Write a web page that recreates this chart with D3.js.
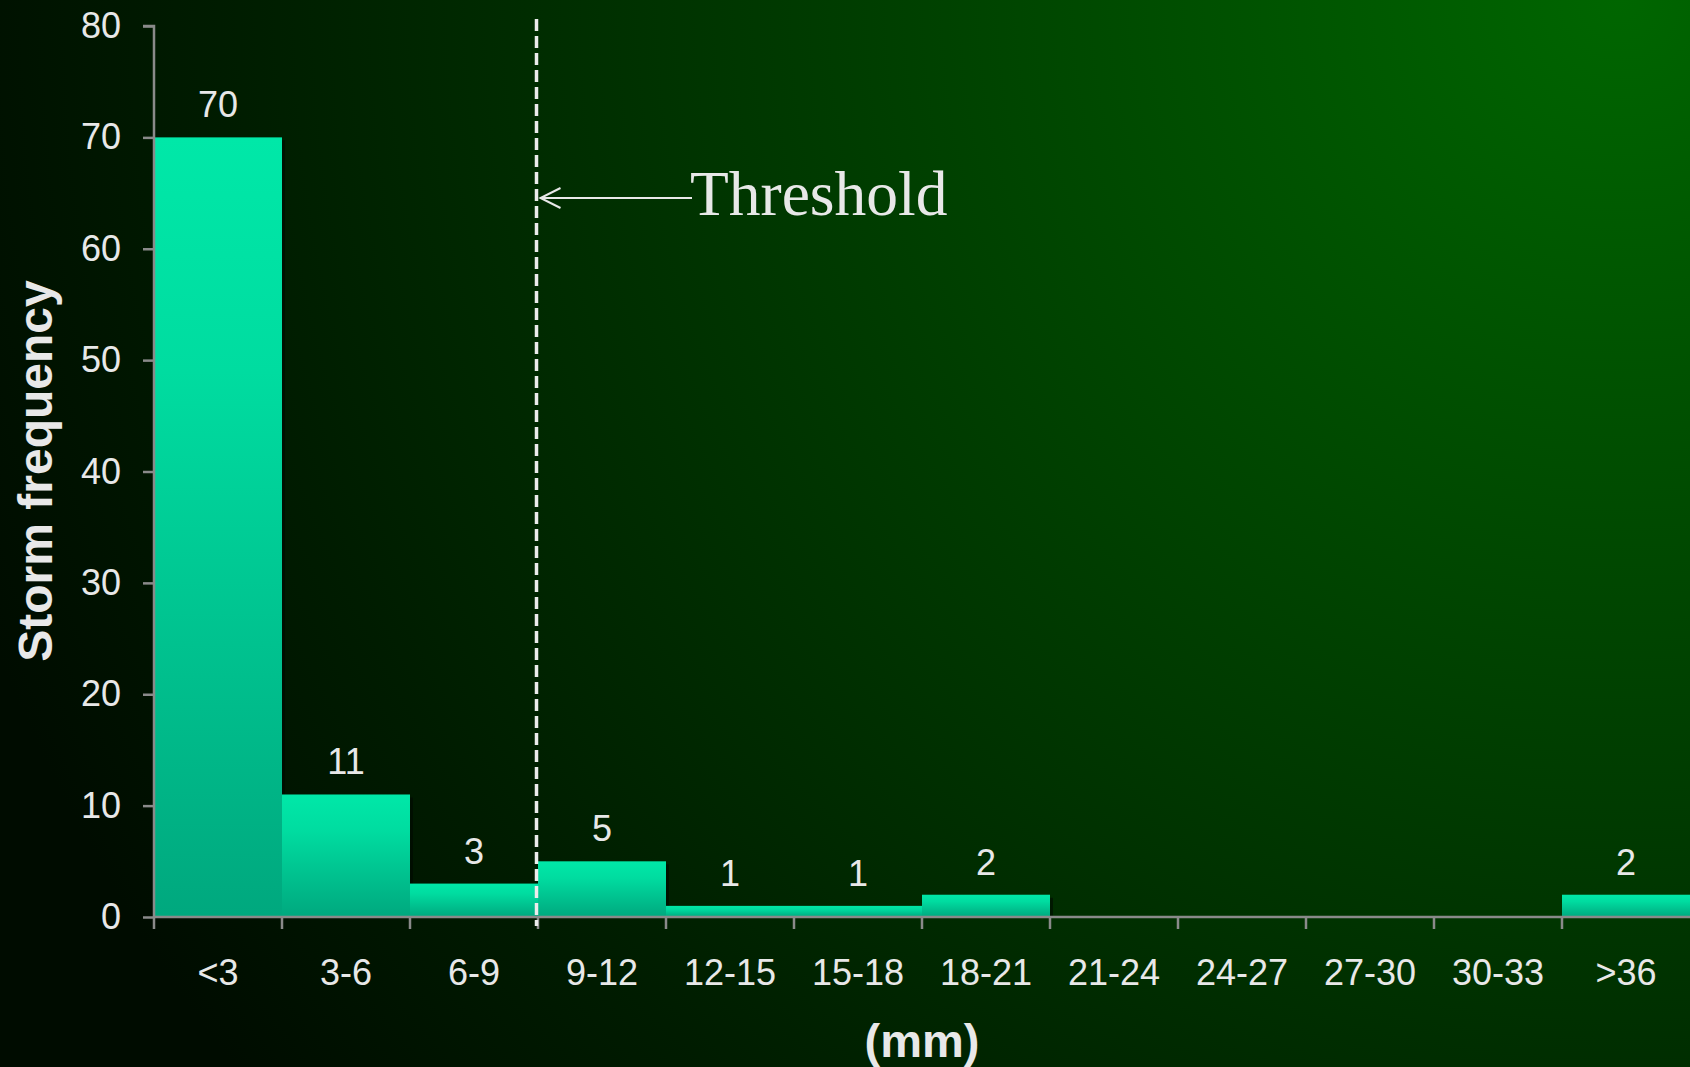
<!DOCTYPE html>
<html>
<head>
<meta charset="utf-8">
<script src="https://cdn.jsdelivr.net/npm/d3@7"></script>
<style>
  html, body { margin: 0; padding: 0; background: #001000; }
  svg { display: block; }
</style>
</head>
<body>
<svg id="chart" width="1690" height="1067"></svg>
<script>
const categories = ["<3","3-6","6-9","9-12","12-15","15-18","18-21","21-24","24-27","27-30","30-33",">36"];
const frequencies = [70, 11, 3, 5, 1, 1, 2, 0, 0, 0, 0, 2];
const yTicks = [0, 10, 20, 30, 40, 50, 60, 70, 80];
const thresholdCategory = "9-12";
const thresholdLabel = "Threshold";
const yTitle = "Storm frequency";
const xTitle = "(mm)";

const W = 1690, H = 1067;
const margin = { left: 154, right: 0, top: 26, bottom: 150 };
const svg = d3.select("#chart");
const defs = svg.append("defs");

// background
const bg = defs.append("radialGradient").attr("id", "bg")
  .attr("gradientUnits", "userSpaceOnUse")
  .attr("cx", 1620).attr("cy", 0).attr("r", 1750);
bg.append("stop").attr("offset", 0).attr("stop-color", "#006600");
bg.append("stop").attr("offset", 0.45).attr("stop-color", "#003c00");
bg.append("stop").attr("offset", 0.8).attr("stop-color", "#001c00");
bg.append("stop").attr("offset", 1).attr("stop-color", "#000c00");
svg.append("rect").attr("width", W).attr("height", H).attr("fill", "url(#bg)");

const barGrad = defs.append("linearGradient").attr("id", "bar")
  .attr("x1", 0).attr("y1", 0).attr("x2", 0).attr("y2", 1);
barGrad.append("stop").attr("offset", 0).attr("stop-color", "#00e8a8");
barGrad.append("stop").attr("offset", 0.3).attr("stop-color", "#00dca0");
barGrad.append("stop").attr("offset", 1).attr("stop-color", "#00a87e");

const x = d3.scaleBand().domain(categories).range([margin.left, W - margin.right]).paddingInner(0).paddingOuter(0);
const y = d3.scaleLinear().domain([0, 80]).range([917, margin.top]);

const data = categories.map((c, i) => ({ c, v: frequencies[i] }));

// bar shadows
svg.append("g").selectAll("rect").data(data.filter(d => d.v > 0)).join("rect")
  .attr("x", d => x(d.c) + 3).attr("y", d => y(d.v) + 3)
  .attr("width", x.bandwidth()).attr("height", d => y(0) - y(d.v) - 3)
  .attr("fill", "#000800").attr("opacity", 0.55);

// bars
svg.append("g").selectAll("rect").data(data.filter(d => d.v > 0)).join("rect")
  .attr("x", d => x(d.c)).attr("y", d => y(d.v))
  .attr("width", x.bandwidth()).attr("height", d => y(0) - y(d.v))
  .attr("fill", "url(#bar)");

const textColor = "#e8e8e8";
const axisColor = "#8a8a8a";
const fontSans = "'Liberation Sans', Arial, sans-serif";

// y axis
const yAxis = svg.append("g").attr("transform", `translate(${margin.left},0)`)
  .call(d3.axisLeft(y).tickValues(yTicks).tickSize(11).tickPadding(22));
yAxis.select(".domain").attr("stroke", axisColor).attr("stroke-width", 2.5).attr("d", `M-11,${y(80)}H0V${y(0)}`);
yAxis.selectAll(".tick line").attr("stroke", axisColor).attr("stroke-width", 2.5);
yAxis.selectAll(".tick text").attr("fill", textColor)
  .style("font-family", fontSans).style("font-size", "36px");

// x axis
const xAxis = svg.append("g").attr("transform", `translate(0,${y(0)})`)
  .call(d3.axisBottom(x).tickSize(0).tickPadding(0));
xAxis.select(".domain").attr("stroke", axisColor).attr("stroke-width", 2.5).attr("d", `M${margin.left},0H${W}`);
xAxis.selectAll(".tick text").attr("fill", textColor).attr("y", 68).attr("dy", 0)
  .style("font-family", fontSans).style("font-size", "36px");
// category boundary ticks
xAxis.append("g").selectAll("line").data(categories).join("line")
  .attr("x1", d => x(d)).attr("x2", d => x(d)).attr("y1", 0).attr("y2", 12)
  .attr("stroke", axisColor).attr("stroke-width", 2.5);

// value labels
svg.append("g").selectAll("text").data(data.filter(d => d.v > 0)).join("text")
  .attr("x", d => x(d.c) + x.bandwidth() / 2).attr("y", d => y(d.v) - 20)
  .attr("text-anchor", "middle").attr("fill", textColor)
  .style("font-family", fontSans).style("font-size", "36px")
  .text(d => d.v);

// threshold line
const tx = x(thresholdCategory) - 1.5;
svg.append("line").attr("x1", tx).attr("x2", tx).attr("y1", 19).attr("y2", 926)
  .attr("stroke", "#ececec").attr("stroke-width", 3.5).attr("stroke-dasharray", "12,5");

// arrow
const ay = 198;
svg.append("line").attr("x1", tx + 4).attr("x2", 692).attr("y1", ay).attr("y2", ay)
  .attr("stroke", textColor).attr("stroke-width", 2);
svg.append("path").attr("d", `M${tx + 24},${ay - 10}L${tx + 4},${ay}L${tx + 24},${ay + 10}`)
  .attr("fill", "none").attr("stroke", textColor).attr("stroke-width", 2);
svg.append("text").attr("x", 690).attr("y", 215).attr("fill", textColor)
  .style("font-family", "'Liberation Serif', 'Times New Roman', serif").style("font-size", "63.5px")
  .text(thresholdLabel);

// axis titles
svg.append("text").attr("transform", `translate(52,471) rotate(-90)`)
  .attr("text-anchor", "middle").attr("fill", textColor)
  .style("font-family", fontSans).style("font-size", "48px").style("font-weight", "bold")
  .text(yTitle);
svg.append("text").attr("x", 922).attr("y", 1057)
  .attr("text-anchor", "middle").attr("fill", textColor)
  .style("font-family", fontSans).style("font-size", "47px").style("font-weight", "bold")
  .text(xTitle);
</script>
</body>
</html>
